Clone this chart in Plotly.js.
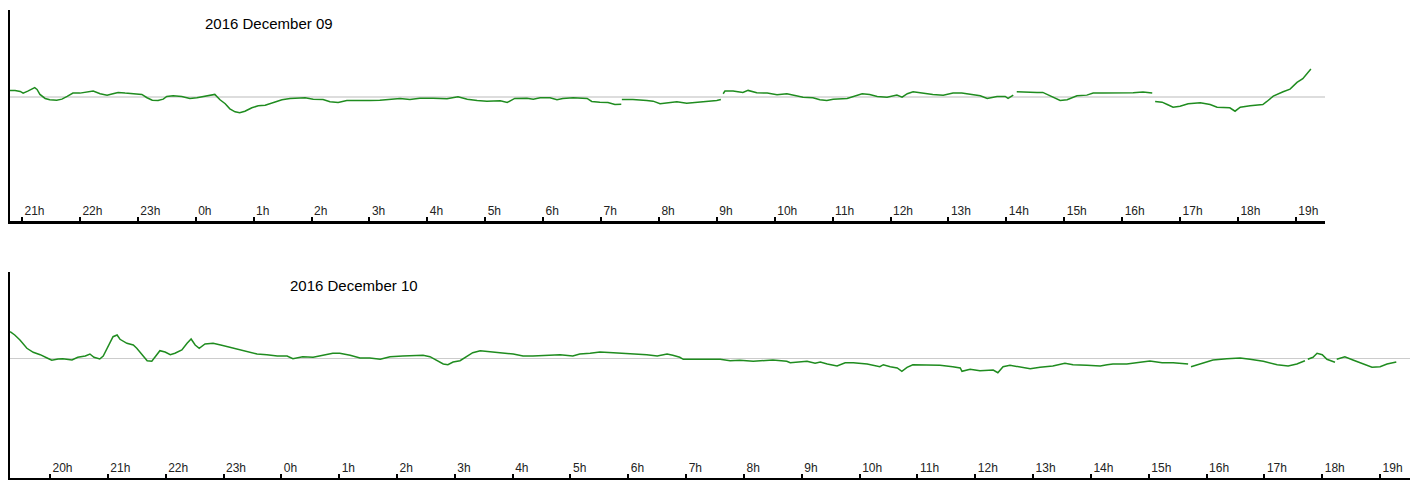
<!DOCTYPE html>
<html>
<head>
<meta charset="utf-8">
<script src="https://cdn.plot.ly/plotly-3.0.1.min.js"></script>
<style>html,body{margin:0;padding:0;background:#fff;}#chart{width:1415px;height:480px;}</style>
</head>
<body>
<div id="chart"></div>
<script>
// Panel 1: 2016 December 09 (hours; 24 = 0h of next day)
var title1 = "2016 December 09";
var hours1 = [20.79,20.88,20.97,21.02,21.10,21.19,21.22,21.26,21.31,21.40,21.48,21.60,21.69,21.78,21.88,22.00,22.12,22.23,22.35,22.47,22.57,22.66,22.78,22.92,23.07,23.16,23.25,23.35,23.44,23.50,23.61,23.76,23.90,24.02,24.13,24.25,24.33,24.42,24.51,24.59,24.68,24.76,24.85,24.97,25.08,25.20,25.32,25.49,25.63,25.77,25.89,26.03,26.20,26.32,26.46,26.61,26.75,26.89,27.01,27.18,27.36,27.53,27.70,27.87,28.10,28.34,28.53,28.69,28.86,29.03,29.26,29.38,29.51,29.72,29.83,29.95,30.12,30.24,30.34,30.52,30.76,30.84,30.98,31.12,31.24,31.35,31.355,31.36,31.55,31.79,31.90,32.02,32.14,32.31,32.48,32.66,32.83,33.00,33.07,33.09,33.11,33.14,33.28,33.45,33.54,33.69,33.87,34.04,34.21,34.39,34.49,34.66,34.78,34.90,35.01,35.25,35.35,35.51,35.64,35.77,35.94,36.11,36.20,36.29,36.39,36.56,36.73,36.91,37.08,37.23,37.37,37.55,37.67,37.84,37.98,38.03,38.12,38.15,38.18,38.36,38.53,38.63,38.79,38.93,39.05,39.22,39.39,39.50,39.67,39.84,39.96,40.19,40.36,40.52,40.545,40.57,40.69,40.78,40.88,41.00,41.14,41.35,41.52,41.64,41.86,41.95,42.04,42.21,42.43,42.50,42.61,42.78,42.90,43.02,43.12,43.26];
var values1 = [6.7,6.7,5.7,4.0,6.0,8.4,9.4,7.7,2.7,-1.3,-2.6,-3.0,-2.0,0.7,4.0,4.0,4.7,6.0,3.4,2.0,3.4,4.7,4.0,3.4,2.7,-0.6,-3.0,-3.3,-2.0,0.7,1.4,0.7,-1.3,-0.6,0.7,1.7,2.7,-2.6,-6.6,-11.6,-14.6,-15.6,-14.0,-10.6,-8.6,-8.0,-6.0,-2.6,-1.3,-1.3,-0.6,-2.0,-2.3,-4.6,-5.3,-3.3,-3.3,-4.0,-3.3,-3.0,-2.0,-1.3,-2.3,-1.0,-1.0,-1.6,0.4,-2.0,-3.3,-4.0,-3.6,-5.3,-1.3,-1.0,-2.0,-0.6,-0.6,-2.6,-1.3,-0.6,-1.3,-4.3,-5.0,-5.3,-7.3,-7.0,null,-2.3,-2.3,-3.3,-4.0,-6.6,-5.6,-4.6,-6.0,-5.3,-4.6,-3.3,-2.3,null,3.4,6.0,6.0,4.7,6.7,4.4,4.0,2.4,3.4,1.4,0.0,-0.6,-2.6,-3.3,-2.0,-1.3,0.7,3.4,2.7,0.7,0.0,2.0,0.0,3.4,5.4,4.0,2.7,2.0,4.0,4.0,2.7,1.4,-1.3,0.7,0.7,-1.3,2.0,null,5.4,4.7,4.7,4.7,0.7,-3.3,-2.6,1.4,2.0,4.0,4.0,4.0,4.7,4.4,5.0,4.0,null,-4.3,-5.0,-7.3,-10.0,-9.0,-6.6,-5.6,-7.3,-10.0,-10.6,-14.0,-10.0,-8.6,-7.3,-4.3,1.0,5.4,8.0,14.7,18.4,28.0];
var tickVals1 = [21,22,23,24,25,26,27,28,29,30,31,32,33,34,35,36,37,38,39,40,41,42,43];
var tickText1 = ["21h","22h","23h","0h","1h","2h","3h","4h","5h","6h","7h","8h","9h","10h","11h","12h","13h","14h","15h","16h","17h","18h","19h"];

// Panel 2: 2016 December 10
var title2 = "2016 December 10";
var hours2 = [19.31,19.39,19.48,19.60,19.71,19.83,19.95,20.03,20.14,20.22,20.38,20.48,20.61,20.69,20.76,20.86,20.92,21.00,21.09,21.16,21.21,21.33,21.44,21.50,21.59,21.68,21.76,21.85,21.90,21.99,22.08,22.16,22.28,22.37,22.44,22.51,22.58,22.68,22.82,22.97,23.11,23.29,23.46,23.58,23.75,23.93,24.10,24.20,24.37,24.55,24.72,24.89,25.01,25.19,25.36,25.53,25.71,25.88,26.10,26.28,26.45,26.57,26.69,26.80,26.88,26.97,27.09,27.21,27.31,27.44,27.61,27.78,28.01,28.18,28.35,28.59,28.82,29.04,29.16,29.34,29.51,29.74,29.98,30.15,30.32,30.50,30.67,30.77,30.89,30.95,31.12,31.36,31.59,31.76,31.93,32.16,32.50,32.74,32.80,33.09,33.23,33.32,33.44,33.61,33.75,33.89,34.13,34.35,34.41,34.53,34.65,34.73,34.82,34.92,35.17,35.39,35.61,35.74,35.77,35.91,36.08,36.22,36.31,36.39,36.48,36.60,36.77,36.95,37.12,37.34,37.55,37.69,37.93,38.16,38.28,38.38,38.50,38.62,38.85,39.02,39.23,39.42,39.68,39.70,39.73,39.89,40.11,40.35,40.58,40.75,40.98,41.22,41.41,41.56,41.70,41.72,41.75,41.84,41.91,42.00,42.08,42.22,42.23,42.25,42.39,42.53,42.70,42.86,43.00,43.12,43.28];
var values2 = [26.8,23.5,18.5,10.2,6.2,3.8,0.5,-1.8,-0.5,-0.2,-1.5,1.2,2.5,4.5,1.2,-0.5,2.5,11.8,21.8,23.5,19.2,15.2,13.5,10.2,3.5,-2.2,-2.8,3.5,7.8,6.5,3.8,5.2,8.5,15.2,19.5,13.5,10.2,14.5,15.2,13.2,11.2,9.2,6.8,4.5,3.8,2.5,2.5,-0.2,1.8,1.2,3.2,5.2,5.2,3.2,0.5,0.5,-0.8,1.8,2.5,3.2,3.2,1.8,-2.2,-5.5,-6.2,-3.5,-2.2,2.5,5.8,7.8,6.5,5.8,4.5,2.5,2.5,3.2,3.8,2.5,4.5,5.2,6.5,5.8,5.2,4.5,3.8,2.5,4.5,3.2,1.2,-0.8,-0.8,-0.2,-0.8,-2.2,-1.8,-2.8,-1.5,-2.8,-4.2,-2.8,-4.8,-3.5,-5.5,-7.5,-4.2,-4.2,-5.5,-8.2,-6.2,-8.2,-9.5,-12.8,-8.8,-6.2,-6.8,-6.8,-8.2,-9.5,-12.8,-10.8,-12.2,-12.2,-11.5,-14.2,-8.2,-6.8,-8.8,-10.2,-8.8,-7.5,-4.8,-6.2,-6.8,-7.5,-6.2,-5.5,-5.5,-5.5,-3.8,-2.5,-4.2,-4.2,-5.5,null,-8.2,-5.5,-1.5,-0.2,0.5,-0.8,-2.8,-6.2,-7.5,-5.5,-2.2,null,-0.8,1.2,5.2,3.8,-0.8,-3.8,null,-0.8,1.8,-1.5,-5.5,-8.8,-8.2,-5.5,-3.5];
var tickVals2 = [20,21,22,23,24,25,26,27,28,29,30,31,32,33,34,35,36,37,38,39,40,41,42,43];
var tickText2 = ["20h","21h","22h","23h","0h","1h","2h","3h","4h","5h","6h","7h","8h","9h","10h","11h","12h","13h","14h","15h","16h","17h","18h","19h"];

var lineColor = "#1f8c1f";
var traces = [
  {x: hours1, y: values1, xaxis: "x", yaxis: "y", type: "scatter", mode: "lines",
   line: {color: lineColor, width: 1.5}, connectgaps: false, hoverinfo: "skip"},
  {x: hours2, y: values2, xaxis: "x2", yaxis: "y2", type: "scatter", mode: "lines",
   line: {color: lineColor, width: 1.5}, connectgaps: false, hoverinfo: "skip"}
];

var font = "Liberation Sans, Arial, Helvetica, sans-serif";
function xax(domain, range, tv, tt, anchor) {
  return {domain: domain, range: range, anchor: anchor, showline: true, linecolor: "#000", linewidth: 3,
    ticks: "inside", ticklen: 4, tickwidth: 2, tickcolor: "#000", tickmode: "array",
    tickvals: tv, ticktext: tt, ticklabelposition: "inside right",
    tickfont: {family: font, size: 12, color: "#222"}, showgrid: false, zeroline: false, fixedrange: true};
}
function yax(domain, range, anchor, zc, zw) {
  return {domain: domain, range: range, anchor: anchor, showline: true, linecolor: "#000", linewidth: 2,
    ticks: "", showticklabels: false, showgrid: false, zeroline: true, zerolinecolor: zc, zerolinewidth: zw, fixedrange: true};
}

var layout = {
  width: 1415, height: 480,
  margin: {l: 10, r: 5, t: 10, b: 2},
  paper_bgcolor: "#fff", plot_bgcolor: "#fff",
  showlegend: false,
  xaxis: xax([0, 0.9393], [20.793, 43.504], tickVals1, tickText1, "y"),
  yaxis: yax([0.549, 1], [-123.3, 86.7], "x", "#dddddd", 2),
  xaxis2: xax([0, 1], [19.308, 43.517], tickVals2, tickText2, "y2"),
  yaxis2: yax([0, 0.4402], [-119.5, 86.5], "x2", "#cccccc", 1),
  annotations: [
    {text: title1, xref: "paper", yref: "paper", x: 0.1379, y: 0.9722, xanchor: "left", yanchor: "middle",
     showarrow: false, font: {family: font, size: 15, color: "#000"}},
    {text: title2, xref: "paper", yref: "paper", x: 0.1986, y: 0.4103, xanchor: "left", yanchor: "middle",
     showarrow: false, font: {family: font, size: 15, color: "#000"}}
  ]
};

Plotly.newPlot("chart", traces, layout, {displayModeBar: false, staticPlot: true});
</script>
</body>
</html>
